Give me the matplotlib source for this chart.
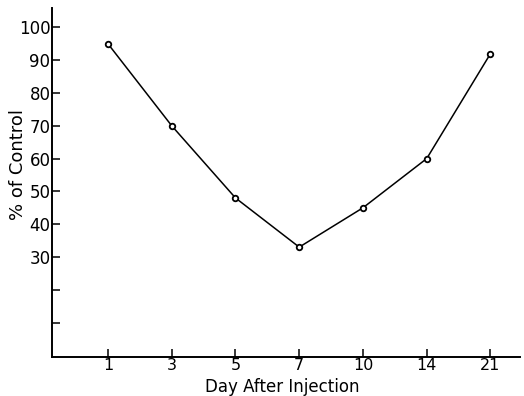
import matplotlib
matplotlib.use("Agg")
import matplotlib.pyplot as plt

days = ["1", "3", "5", "7", "10", "14", "21"]
pct_control = [95, 70, 48, 33, 45, 60, 92]
y_ticks = [10, 20, 30, 40, 50, 60, 70, 80, 90, 100]
y_labels = ["", "", "30", "40", "50", "60", "70", "80", "90", "100"]

plt.rcParams["font.family"] = ["DejaVu Sans"]

fig = plt.figure(figsize=(5.24, 3.96), dpi=100)
ax = fig.add_axes([0.099, 0.0985, 0.893, 0.882])

x = list(range(len(days)))
ax.plot(x, pct_control, color="black", lw=1.1, marker="o", ms=4,
        mfc="white", mec="black", mew=1.3)

ax.set_xlim(-0.88, 6.46)
ax.set_ylim(-0.5, 106)
ax.set_xticks(x)
ax.set_xticklabels(days)
ax.set_yticks(y_ticks)
ax.set_yticklabels(y_labels)

ax.spines["top"].set_visible(False)
ax.spines["right"].set_visible(False)
ax.spines["left"].set_linewidth(1.4)
ax.spines["bottom"].set_linewidth(1.4)
ax.tick_params(axis="both", direction="in", length=6, width=1.1,
               labelsize=12, colors="black")
ax.tick_params(axis="y", pad=1)
ax.tick_params(axis="x", pad=1, labelsize=11.5)

fig.text(0.035, 0.585, "% of Control", rotation=90, ha="center",
         va="center", fontsize=13)
fig.text(0.539, 0.022, "Day After Injection", ha="center", va="center",
         fontsize=12)

fig.savefig("out.png", dpi=100)
